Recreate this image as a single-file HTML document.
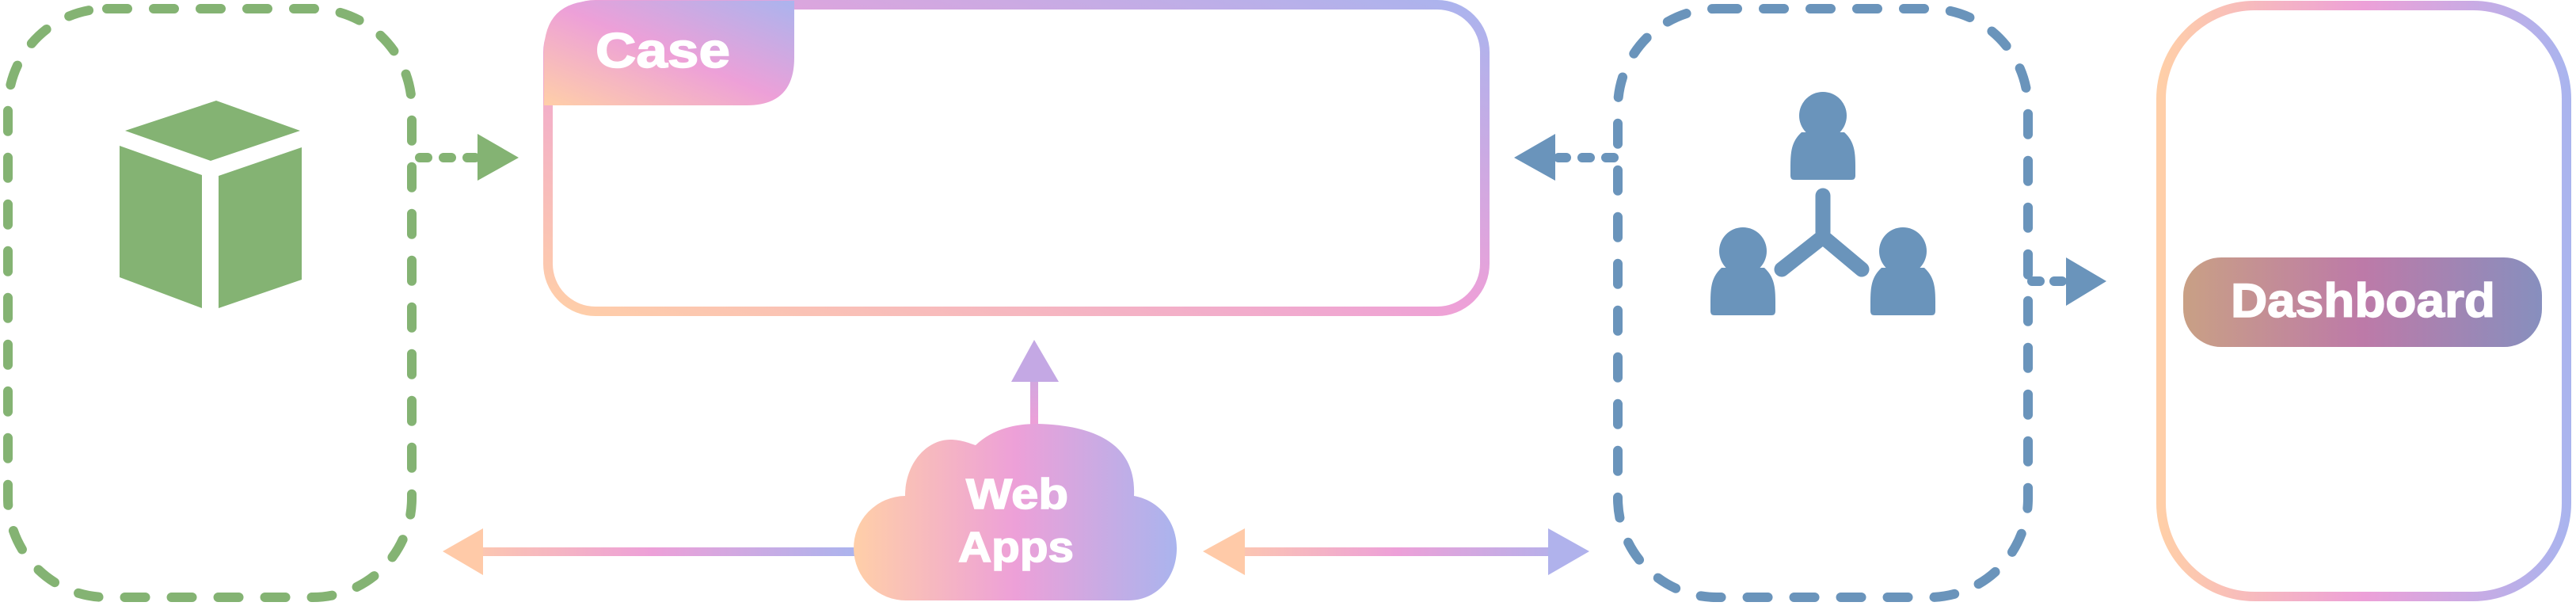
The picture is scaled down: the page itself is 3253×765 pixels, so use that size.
<!DOCTYPE html>
<html><head><meta charset="utf-8"><style>
html,body{margin:0;padding:0;background:#fff;}
svg{display:block;}
text{font-family:"Liberation Sans",sans-serif;font-weight:bold;fill:#fff;stroke:#fff;stroke-width:1.5;}
</style></head><body>
<svg width="3253" height="765" viewBox="0 0 3253 765" xmlns="http://www.w3.org/2000/svg">
<defs>
<linearGradient id="gd" x1="0" y1="1" x2="1" y2="0">
<stop offset="0" stop-color="#ffcfa8"/><stop offset="0.5" stop-color="#eda0d8"/><stop offset="1" stop-color="#aab4ee"/></linearGradient>
<linearGradient id="gh" x1="0" y1="0" x2="1" y2="0">
<stop offset="0" stop-color="#ffcfa8"/><stop offset="0.5" stop-color="#eda0d8"/><stop offset="1" stop-color="#aab4ee"/></linearGradient>
<linearGradient id="gr" gradientUnits="userSpaceOnUse" x1="1519" y1="0" x2="2007" y2="0">
<stop offset="0" stop-color="#ffcfa8"/><stop offset="0.5" stop-color="#eda0d8"/><stop offset="1" stop-color="#aab4ee"/></linearGradient>
<linearGradient id="gl" gradientUnits="userSpaceOnUse" x1="559" y1="0" x2="1084" y2="0">
<stop offset="0" stop-color="#ffcfa8"/><stop offset="0.5" stop-color="#eda0d8"/><stop offset="1" stop-color="#aab4ee"/></linearGradient>
<linearGradient id="gu" gradientUnits="userSpaceOnUse" x1="0" y1="535" x2="0" y2="429">
<stop offset="0" stop-color="#eda0d8"/><stop offset="1" stop-color="#b8aee6"/></linearGradient>
<linearGradient id="gp" x1="0" y1="0" x2="1" y2="0">
<stop offset="0" stop-color="#c9a085"/><stop offset="0.5" stop-color="#bd7aa8"/><stop offset="1" stop-color="#878fbe"/></linearGradient>
</defs>

<rect x="10" y="11" width="510" height="743" rx="125" fill="none" stroke="#84b373" stroke-width="12" stroke-linecap="round" stroke-dasharray="26 33"/>
<g fill="#84b373">
<polygon points="158,165 273,127 379,165 266,203"/>
<polygon points="151,184 255,221 255,389 151,350"/>
<polygon points="276,222 381,186 381,353 276,389"/>
</g>
<line x1="530" y1="199" x2="600" y2="199" stroke="#84b373" stroke-width="12" stroke-linecap="round" stroke-dasharray="10 20"/>
<polygon points="603,169 655,199 603,228" fill="#84b373"/>

<rect x="692" y="6" width="1183" height="387" rx="60" fill="none" stroke="url(#gd)" stroke-width="12"/>
<path d="M687,133 V66 Q687,1 752,1 H1003 V73 Q1003,133 943,133 Z" fill="url(#gd)"/>
<text x="752" y="85" font-size="62" textLength="170" lengthAdjust="spacingAndGlyphs">Case</text>

<rect x="1301" y="480" width="10" height="58" fill="url(#gu)"/>
<polygon points="1306,429 1337,482 1277,482" fill="#c4a8e4"/>

<rect x="605" y="691" width="485" height="11" fill="url(#gl)"/>
<polygon points="559,696 610,667 610,726" fill="#ffcaa8"/>

<rect x="1565" y="691" width="395" height="11" fill="url(#gr)"/>
<polygon points="1519,696 1572,667 1572,726" fill="#ffcaa8"/>
<polygon points="2007,696 1955,667 1955,726" fill="#b0b2ec"/>

<path d="M1145,758 A66,66 0 0 1 1143,626 C1143,585 1170,555 1200,555 C1215,555 1225,560 1232,562 C1250,545 1275,535 1310,535 C1390,537 1435,565 1432,626 C1465,632 1486,660 1486,692 C1486,730 1460,758 1425,758 Z" fill="url(#gh)"/>
<text x="1220" y="642" font-size="54" textLength="129" lengthAdjust="spacingAndGlyphs">Web</text>
<text x="1210" y="709" font-size="54" textLength="146" lengthAdjust="spacingAndGlyphs">Apps</text>

<rect x="2043" y="11" width="518" height="743" rx="125" fill="none" stroke="#6a94bb" stroke-width="12" stroke-linecap="round" stroke-dasharray="26 33"/>
<line x1="1968" y1="199" x2="2040" y2="199" stroke="#6a94bb" stroke-width="12" stroke-linecap="round" stroke-dasharray="10 20"/>
<polygon points="1912,199 1964,169 1964,228" fill="#6a94bb"/>
<line x1="2566" y1="355" x2="2606" y2="355" stroke="#6a94bb" stroke-width="12" stroke-linecap="round" stroke-dasharray="10 18"/>
<polygon points="2609,325 2660,355 2609,386" fill="#6a94bb"/>

<g fill="#6a94bb">
<circle cx="2302" cy="146" r="30"/>
<path d="M2275,167 C2262,179 2261,192 2261,212 L2261,222 Q2261,227 2266,227 L2338,227 Q2343,227 2343,222 L2343,212 C2343,192 2342,179 2329,167 Z"/>
<circle cx="2201" cy="317" r="30"/>
<path d="M2174,338 C2161,350 2160,363 2160,383 L2160,393 Q2160,398 2165,398 L2237,398 Q2242,398 2242,393 L2242,383 C2242,363 2241,350 2228,338 Z"/>
<circle cx="2403" cy="317" r="30"/>
<path d="M2376,338 C2363,350 2362,363 2362,383 L2362,393 Q2362,398 2367,398 L2439,398 Q2444,398 2444,393 L2444,383 C2444,363 2443,350 2430,338 Z"/>
</g>
<polyline points="2302,247 2302,293" fill="none" stroke="#6a94bb" stroke-width="19" stroke-linecap="round"/>
<polyline points="2250,340 2302,299 2351,340" fill="none" stroke="#6a94bb" stroke-width="19" stroke-linecap="round" stroke-linejoin="round"/>

<rect x="2729" y="7" width="512" height="746" rx="118" fill="none" stroke="url(#gh)" stroke-width="12"/>
<rect x="2757" y="325" width="453" height="113" rx="48" fill="url(#gp)"/>
<text x="2817" y="400" font-size="60" textLength="334" lengthAdjust="spacingAndGlyphs">Dashboard</text>
</svg>
</body></html>
